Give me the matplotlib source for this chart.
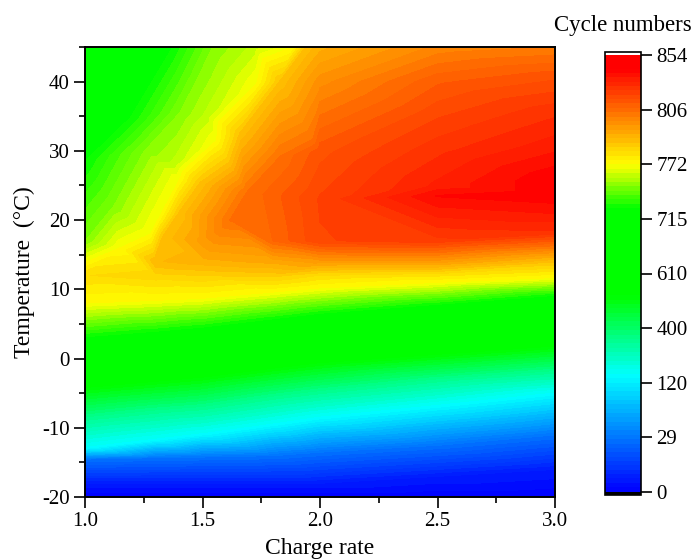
import numpy as np
import matplotlib
matplotlib.use('Agg')
import matplotlib.pyplot as plt
from matplotlib.colors import LinearSegmentedColormap
from matplotlib.ticker import MultipleLocator
from matplotlib.tri import Triangulation

# colorbar labels are evenly spaced, the scale is not linear
bar_ticks = [0, 29, 120, 400, 610, 715, 772, 806, 854]

# lower part: slanted bands, temperature where each cycle number is reached
low_rates = [1.0, 1.3, 1.5, 1.8, 2.0, 2.5, 3.0]
low_cycles = [0, 7, 28, 156, 340, 521, 726, 772]
low_temps = [
    [-20, -20, -20, -20, -20, -20, -20],
    [-18, -18, -18, -18, -18, -17, -16],
    [-14.5, -14.3, -14.2, -14, -13.5, -12.5, -11],
    [-12.9, -11.7, -10.9, -9.5, -8.5, -6.8, -5],
    [-8.5, -7.5, -7, -5.5, -4.7, -3, -1.8],
    [-4.3, -3.4, -2.8, -1.5, -0.7, 0.5, 1.7],
    [3.1, 3.9, 4.5, 5.7, 6.5, 7.8, 9.1],
    [8, 8.4, 8.7, 9.6, 10.2, 11, 11.7],
]

# upper part: points
up_rates = [1.0, 1.3, 1.5, 1.8, 2.0, 2.5,
            1.3, 1.5, 1.8, 2.0, 2.5, 3.0,
            1.5, 1.8, 2.0, 2.5, 3.0,
            1.0, 1.0, 1.0, 1.0, 1.19, 1.37,
            1.12, 1.25, 1.40, 1.47, 1.54,
            1.38, 1.52, 1.62, 1.72,
            1.15, 1.28, 1.31, 1.40, 1.56, 1.73, 1.885,
            1.33, 1.40, 1.49, 1.66, 1.83, 1.94,
            1.62, 1.69, 1.83, 1.97,
            2.0, 2.0, 2.0, 2.0,
            2.5, 2.5, 2.5, 2.5, 2.5, 2.5,
            3.0, 3.0, 3.0, 3.0, 3.0, 3.0, 3.0]
up_temps = [12, 12, 12, 12, 12, 12,
            14, 14, 14, 14, 14, 14,
            17, 17, 17, 17, 18.2,
            17, 28.6, 36, 45, 34.8, 45,
            22, 30, 35.5, 40, 45,
            28, 35, 41, 45,
            16, 18, 20, 25.7, 31.5, 39.7, 45,
            17.5, 21, 25.3, 32.5, 40, 45,
            20, 23.9, 29, 31.5,
            23, 30, 40, 45,
            23.5, 25, 30, 35, 40, 45,
            21, 23.7, 26, 30.8, 35.6, 40.5, 45]
up_cycles = [780, 782, 783, 784, 780, 778,
             788, 790, 792, 795, 795, 786,
             795, 808, 819, 822, 826,
             749, 726, 690, 640, 726, 726,
             749, 749, 749, 749, 749,
             760, 760, 760, 760,
             772, 772, 772, 772, 772, 772, 772,
             786, 786, 786, 786, 786, 786,
             805, 805, 805, 805,
             820, 814, 798, 790,
             839, 832, 826, 819, 811, 800,
             835, 842, 842, 833, 826, 815, 802]

plt.rcParams['font.family'] = ['Liberation Serif', 'DejaVu Serif']
plt.rcParams['font.size'] = 15

bar_pos = np.linspace(0, 1, len(bar_ticks))
rainbow = LinearSegmentedColormap.from_list('rainbow5', [
    (0, '#0000ff'), (0.266, '#00ffff'), (0.447, '#00ff00'), (0.65, '#00ff00'),
    (0.75, '#ffff00'), (0.97, '#ff0000'), (1, '#ff0000')], N=256)
rainbow.set_under('black')
rainbow.set_over('white')

x = np.concatenate([np.tile(low_rates, len(low_cycles)), up_rates])
y = np.concatenate([np.ravel(low_temps), up_temps])
cycles = np.concatenate([np.repeat(low_cycles, len(low_rates)), up_cycles])
z = np.interp(cycles, bar_ticks, bar_pos)

# triangles from scaled axes, otherwise they all stretch along temperature
tri = Triangulation(x, y, triangles=Triangulation((x - 1) / 2, (y + 20) / 65).triangles)

w, h = 695, 559
fig = plt.figure(figsize=(w / 100, h / 100), dpi=100)
ax = fig.add_axes([85 / w, 1 - 497 / h, 470 / w, 450 / h])
levels = np.linspace(0, 1, 101)
cs = ax.tricontourf(tri, z, levels=levels, cmap=rainbow, extend='both')

ax.set_xlim(1, 3)
ax.set_ylim(-20, 45)
ax.set_xticks([1.0, 1.5, 2.0, 2.5, 3.0])
ax.set_yticks([-20, -10, 0, 10, 20, 30, 40])
ax.set_yticklabels(['-20', '-10', '0', '10', '20', '30', '40'])
ax.xaxis.set_minor_locator(MultipleLocator(0.25))
ax.yaxis.set_minor_locator(MultipleLocator(5))
ax.tick_params(which='major', length=8, width=1.2, labelsize=15, pad=3)
ax.tick_params(which='minor', length=4, width=1.2)
for s in ax.spines.values():
    s.set_linewidth(1.4)
ax.set_xlabel('Charge rate', fontsize=17, labelpad=5)
ax.set_ylabel('Temperature  (°C)', fontsize=17, labelpad=5)

cax = fig.add_axes([605 / w, 1 - 495 / h, 36 / w, 443 / h])
cb = fig.colorbar(cs, cax=cax, extend='both', extendrect=True, extendfrac=0.008, drawedges=False)
cb.set_ticks(bar_pos)
cb.set_ticklabels([str(v) for v in bar_ticks])
cb.ax.tick_params(length=8, width=1.2, labelsize=15, pad=3)
cb.ax.minorticks_off()
cb.outline.set_linewidth(1.2)
fig.text(623 / w, 1 - 26 / h, 'Cycle numbers', ha='center', va='center', fontsize=16.5)

fig.savefig('out.png', dpi=100)
